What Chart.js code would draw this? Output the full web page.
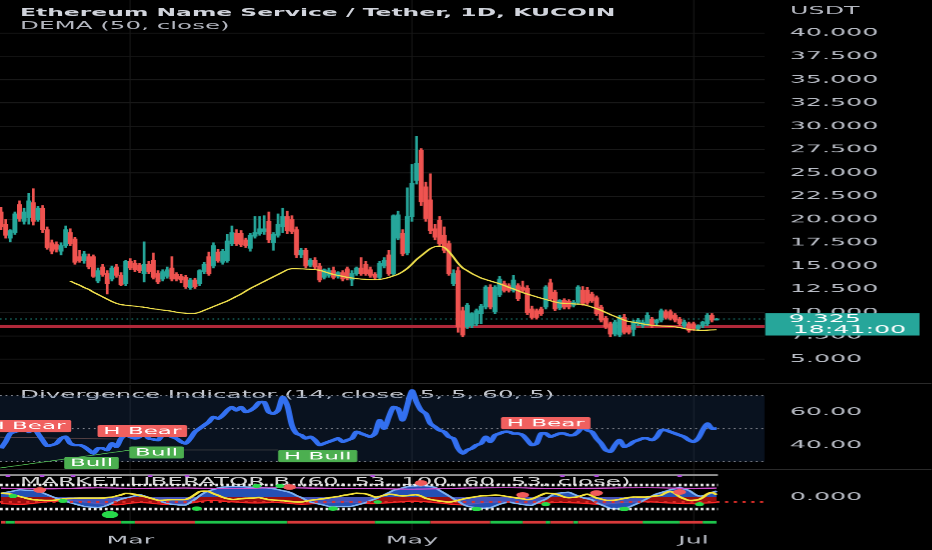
<!DOCTYPE html>
<html>
<head>
<meta charset="utf-8">
<script src="https://cdn.jsdelivr.net/npm/chart.js@4.4.1/dist/chart.umd.min.js"></script>
<style>
html, body { margin: 0; padding: 0; background: #000; overflow: hidden; width: 932px; height: 550px; }
#wrap { position: absolute; left: 0; top: 0; width: 405.2174px; height: 550px; transform: scaleX(2.3); transform-origin: 0 0; }
.pane { position: absolute; left: 0; width: 405.2174px; }
.txt { position: absolute; white-space: nowrap; font-family: 'DejaVu Sans', sans-serif; font-size: 10.7px; line-height: 12px; color: #b2b5be; }
.sep { position: absolute; left: 0; width: 405.2174px; height: 1px; background: #2a2a2a; }
</style>
</head>
<body>
<div id="wrap">
  <div class="pane" style="top:0;height:383px"><canvas id="main"></canvas></div>
  <div class="sep" style="top:383px"></div>
  <div class="txt" style="left:8.7px;top:389px;color:#c4c7ce">Divergence Indicator (14, close, 5, 5, 60, 5)</div>
  <div class="pane" style="top:385px;height:84px"><canvas id="rsi"></canvas></div>
  <div class="sep" style="top:469px"></div>
  <div class="txt" style="left:8.7px;top:476px;color:#d4d4d4">MARKET LIBERATOR B (60, 53, 100, 60, 53, close)</div>
  <div class="pane" style="top:470px;height:80px"><canvas id="osc"></canvas></div>
  <div class="txt" style="left:8.7px;top:6.8px;font-weight:bold;font-size:10.2px;color:#d1d4dc">Ethereum Name Service / Tether, 1D, KUCOIN</div>
  <div class="txt" style="left:8.7px;top:19.5px">DEMA (50, close)</div>
  <div class="txt" style="left:343.5px;top:4.5px;font-size:11px">USDT</div>
</div>
<script>
// ENS/USDT daily candles, Feb 1 .. Jul 6
const open = [
  20.8,19.5,18.0,18.6,21.6,19.8,20.2,21.8,20.0,21.2,
  18.9,17.5,17.3,16.6,17.2,18.6,17.9,16.0,15.6,16.0,
  16.0,13.4,14.9,14.2,13.6,14.9,14.0,13.1,15.5,15.3,
  15.1,14.2,15.2,15.6,14.2,13.6,13.9,14.8,14.1,13.9,
  13.8,12.7,13.5,13.1,14.4,16.0,15.0,16.5,15.4,15.6,
  17.4,18.5,18.5,17.8,16.9,18.2,18.5,18.7,19.8,17.5,
  18.3,19.2,20.3,20.0,18.9,16.2,16.7,15.1,15.6,15.0,
  13.8,14.0,14.5,13.9,14.3,14.7,13.5,14.2,14.8,15.2,
  14.6,14.1,13.8,15.0,16.2,14.2,18.0,18.5,16.4,20.3,
  24.2,27.4,23.5,22.1,19.0,19.9,18.3,17.4,13.1,14.5,
  10.2,8.5,8.6,8.8,9.9,10.6,12.7,10.1,11.9,13.1,
  12.9,12.4,12.9,12.75,12.6,10.4,10.2,10.4,10.6,13.2,
  12.2,10.5,11.3,11.2,10.8,11.1,12.4,12.4,12.0,11.6,
  10.6,9.4,8.8,7.7,7.6,9.5,8.4,8.2,8.8,8.6,
  8.8,9.3,8.9,9.2,10.1,10.1,9.7,9.3,8.6,8.8,
  8.8,8.3,8.6,8.8,9.7,9.2
];
const high = [
  21.3,20.0,18.9,20.8,22.0,21.2,22.8,23.3,21.4,21.5,
  19.2,17.8,17.6,17.5,19.3,19.0,18.1,16.7,16.6,16.3,
  16.2,14.8,15.2,14.5,15.0,15.2,14.3,15.6,15.8,15.6,
  15.3,17.6,15.5,16.4,14.5,14.6,14.9,16.0,14.3,14.1,
  14.0,13.7,13.7,14.6,15.4,16.5,17.5,16.8,16.8,18.4,
  19.3,18.9,18.8,18.0,18.5,20.3,20.3,20.4,20.8,18.6,
  20.6,21.2,20.9,20.4,19.2,16.9,16.9,15.8,15.9,15.3,
  14.7,14.8,14.9,14.4,14.5,14.9,14.5,14.9,15.9,15.5,
  14.9,14.3,15.5,15.9,16.7,20.5,20.9,18.9,23.4,25.9,
  28.9,27.6,24.0,24.9,19.5,20.3,19.2,17.7,14.6,14.9,
  10.6,11.0,10.0,10.4,10.9,12.9,13.0,12.9,13.9,13.4,
  13.1,14.0,13.1,13.4,12.9,10.7,10.4,10.6,12.9,13.6,
  12.4,11.4,11.5,11.4,11.3,12.9,12.8,12.7,12.2,11.8,
  10.8,9.6,9.0,9.2,9.7,9.8,8.6,9.2,9.4,9.2,
  10.0,9.5,9.3,10.4,10.3,10.3,9.9,9.5,9.2,9.0,
  9.0,8.7,9.1,9.9,9.9,9.4
];
const low = [
  18.9,18.0,17.6,18.4,19.8,19.5,19.5,19.4,19.8,18.6,
  16.8,16.3,16.5,16.2,17.0,17.2,15.2,15.4,15.3,14.7,
  13.8,13.2,13.9,12.0,13.4,13.8,12.9,12.9,14.6,14.4,
  14.3,13.3,14.2,13.6,13.1,13.4,13.7,13.4,13.4,13.2,
  12.6,12.5,12.6,12.9,14.2,14.0,14.8,15.4,15.2,15.4,
  17.2,17.2,17.1,17.0,16.6,18.0,18.3,18.4,17.5,16.7,
  18.1,18.6,18.5,18.5,15.9,15.9,14.8,14.9,14.7,13.3,
  13.6,13.8,13.6,13.7,13.4,13.5,12.9,14.0,14.0,14.0,
  13.8,13.6,13.6,14.8,14.0,14.0,17.8,16.1,16.2,19.8,
  23.8,21.5,19.8,18.5,17.8,17.1,16.4,14.0,12.9,7.9,
  7.4,8.3,8.4,8.6,8.8,10.4,10.4,9.9,11.7,12.2,
  12.2,12.2,11.3,12.2,9.8,9.3,9.3,9.7,10.4,11.3,
  10.2,10.3,10.4,10.4,10.6,10.9,10.8,10.9,11.1,9.7,
  9.0,8.3,7.4,7.5,7.4,7.7,7.7,7.5,8.6,8.4,
  8.6,8.4,8.7,9.0,9.3,9.2,9.0,8.6,8.4,7.9,
  8.1,8.1,8.4,8.6,9.0,9.2
];
const close = [
  19.2,18.3,18.8,20.6,20.1,20.8,22.0,19.8,21.2,18.9,
  17.0,16.6,16.8,17.2,18.9,17.4,15.4,15.6,16.3,14.9,
  13.9,14.5,14.1,13.1,14.8,14.0,13.0,15.5,14.8,14.6,
  14.5,15.2,14.4,13.8,13.3,14.4,14.6,13.6,13.6,13.5,
  12.8,13.5,12.8,14.5,15.2,14.2,17.2,15.6,16.6,17.7,
  18.6,17.4,17.3,17.2,18.3,18.6,19.0,19.0,17.8,18.4,
  19.5,20.3,18.8,18.7,16.2,16.7,15.0,15.6,14.9,13.5,
  14.6,14.5,13.8,14.3,13.6,13.7,14.2,14.8,14.2,14.2,
  14.0,13.8,15.3,15.6,14.2,20.4,20.5,16.3,20.3,23.9,
  26.0,21.9,20.1,18.8,18.1,17.4,16.7,14.2,14.2,8.5,
  7.6,10.8,9.9,10.2,10.7,12.75,10.6,12.7,13.6,12.4,
  12.4,13.5,11.5,12.4,10.0,9.5,9.5,9.9,12.75,11.5,
  10.4,11.3,10.6,10.6,11.1,12.75,11.0,11.1,11.3,9.9,
  9.2,8.5,7.7,9.0,9.5,7.9,7.9,9.0,9.2,9.0,
  9.7,8.6,9.2,10.2,9.5,9.4,9.2,8.8,9.0,8.1,
  8.3,8.6,9.0,9.7,9.2,9.325
];
const dema = [
  null,null,null,null,null,null,null,null,null,null,
  null,null,null,null,null,13.4,13.15,12.95,12.7,12.5,
  12.2,11.95,11.7,11.45,11.2,11.0,10.87,10.8,10.75,10.7,
  10.63,10.58,10.5,10.42,10.35,10.28,10.22,10.15,10.05,9.98,
  9.93,9.9,9.92,10.05,10.25,10.45,10.65,10.85,11.05,11.25,
  11.5,11.75,12.0,12.3,12.6,12.85,13.1,13.35,13.6,13.85,
  14.1,14.35,14.6,14.72,14.72,14.7,14.68,14.65,14.62,14.55,
  14.4,14.25,14.1,14.0,13.9,13.8,13.72,13.66,13.6,13.57,
  13.55,13.54,13.56,13.65,13.78,13.95,14.12,14.4,14.75,15.2,
  15.7,16.1,16.5,16.87,17.08,17.12,17.0,16.55,15.95,15.3,
  14.8,14.5,14.2,13.95,13.72,13.55,13.4,13.25,13.1,12.92,
  12.72,12.55,12.35,12.15,12.0,11.85,11.7,11.55,11.42,11.28,
  11.15,11.04,11.0,10.97,10.94,10.92,10.89,10.75,10.6,10.43,
  10.25,10.02,9.8,9.6,9.4,9.2,9.05,8.98,8.9,8.8,
  8.72,8.65,8.6,8.57,8.55,8.53,8.48,8.4,8.3,8.2,
  8.15,8.12,8.1,8.12,8.15,8.17
];
const priceTicks = [5, 7.5, 10, 12.5, 15, 17.5, 20, 22.5, 25, 27.5, 30, 32.5, 35, 37.5, 40];
const supportLevel = 8.53;
const monthLabels = ['Mar', 'May', 'Jul'];
const monthIdx = [28, 89, 150];

// Divergence indicator (RSI 14)
const rsi = [
  38,42,47,48,49,52,48,51,47,43,
  39.5,40,41,44,45,41,40,40,39,37,
  35,38,38,37,41,39,44,46,45,44,
  45,47,44,43.5,43,46,46,45,44,42,
  41,44,48,50,52,54,57,56,58,61,
  63,61,63,60,61,63,66,66,60,59,
  61,69,64,52,47,46,44,45,43,40,
  41,42,43,44,42,43,44,48,47,46,
  45,47,55,50,57,63,62,55,64,73,
  66,61,59,53,51,49,48,45,44,38,
  35,37,38,40,41,45,42,46,47,48,
  48,47,47,46,43,40,41,47,47,45,
  46,47,47,46,46,48,51,49,48,44,
  41,37,36,40,43,39,40,42,43,44,
  44,43,45,49,49,48,47,46,45,43,
  42,44,49,53,50,50
];
const rsiTicks = [40, 60];
const rsiLevels = [70, 50, 30];
const divText = ['H Bear', 'H Bear', 'H Bear', 'Bull', 'Bull', 'H Bull'];
const divIdx = [5.5, 30.6, 118, 19.6, 33.7, 68.6];
const divVal = [51.5, 48.5, 53.3, 29.1, 35.5, 33.3];
const divBull = [false, false, false, true, true, true];

// Market Liberator B
const yellow = [
  33,29,25,15,5,-5,-15,-22,-25,-27,
  -29,-29,-24,-19,-14,-12,-11,-10,-10,-10,
  -10,-10,-8,-5,-1,8,18,30,28,22,
  12,4,-6,-16,-27,-27,-24,-22,-22,-22,
  -20,-5,20,45,49,45,28,14,-2,-13,
  -20,-19,-14,-11,-9,-7,-5,-14,-22,-25,
  -28,-30,-34,-38,-42,-42,-35,-28,-23,-18,
  -13,-7,-1,4,12,18,25,32,29,26,
  14,0,5,14,22,20,13,8,12,16,
  19,7,-10,-20,-27,-33,-38,-43,-36,-27,
  -18,-9,-3,3,9,11,13,15,14,8,
  2,-4,-9,-15,-21,-16,0,17,31,29,
  26,15,0,-6,-3,3,14,24,10,-8,
  -17,-27,-28,-26,-19,-12,-5,0,0,0,
  1,5,9,15,35,46,30,2,-15,-28,
  -27,-23,-5,25,38,19
];
const blue = [
  30,38,45,53,60,58,55,53,51,35,
  20,4,-10,-22,-36,-47,-58,-68,-78,-83,
  -86,-89,-82,-69,-52,-34,-18,-8,0,10,
  20,9,-4,-16,-28,-42,-52,-61,-64,-67,
  -66,-45,-20,10,35,51,63,75,82,85,
  88,89,87,84,82,80,79,77,75,69,
  62,53,45,32,12,-4,-24,-42,-50,-60,
  -68,-78,-80,-80,-80,-80,-77,-67,-58,-47,
  -30,-17,0,18,36,56,64,76,86,91,
  93,95,94,88,80,55,33,10,-15,-35,
  -60,-76,-84,-92,-95,-93,-90,-75,-60,-50,
  -42,-50,-56,-63,-67,-69,-50,-35,-18,8,
  28,33,37,39,24,8,-6,-14,-24,-48,
  -64,-80,-95,-97,-100,-93,-84,-68,-52,-32,
  -12,8,26,37,48,62,70,80,67,55,
  30,10,9,21,36,50
];
const redIdx = [0,5,10,15,20,25,30,35,40,45,50,55,60,65,70,75,80,85,90,95,100,105,110,115,120,125,130,135,140,145,150,155];
const redVal = [-55,-60,-40,-30,-50,-65,-45,-60,-55,-30,-40,-50,-45,-60,-50,-40,-55,-45,-35,-50,-65,-45,-40,-55,-45,-50,-60,-45,-40,-50,-55,-45];
const magIdx = [0,10,20,30,40,50,60,70,80,90,100,110,120,130,140,150,155];
const magVal = [74,68,76,72,75,70,77,73,71,66,74,77,71,74,77,72,75];
const greenDotIdx = [2.6, 13.4, 23.6, 42.4, 55.4, 60.4, 71.9, 81.6, 103, 118, 135, 151.3];
const greenDotVal = [8, -33, -147, -97, 92, 92, -97, -42, -100, -60, -100, -60];
const greenDotSize = [2, 2, 3.6, 2.2, 2, 2, 2.2, 1.8, 2.2, 2, 2.2, 2];
const purpleDotIdx = [1.5, 8.9, 15.6, 32.3, 40.3, 80.5, 121.6, 129, 147];
const purpleDotVal = [175, 175, 175, 175, 175, 175, 175, 175, 175];
const redDotIdx = [8.4, 62.5, 91, 113, 129, 147];
const redDotVal = [58, 83, 117, 17, 33, 42];
const trendLen = [2,2,23,3,13,20,19,12,13,7,5,1,5,1,14,8,5,3];
const trendDir = [-1,1,-1,1,-1,1,-1,1,-1,1,-1,1,-1,1,-1,1,-1,1];
const oscTicks = [0];

// layout (page is drawn narrow and stretched by scaleX)
const S = 2.3;
const W = 932 / S;
const PLOT_W = 765 / S;
const AXIS_W = W - PLOT_W;
const X_MIN = -0.22, X_MAX = 165.4;
const GRID = '#181818';
const UP = '#26a69a', DOWN = '#ef5350';

Chart.defaults.font.family = 'DejaVu Sans';
Chart.defaults.font.size = 11;
Chart.defaults.color = '#b8bcc5';
Chart.defaults.animation = false;

const idx = close.map((_, i) => i);
const candleColor = idx.map(i => close[i] >= open[i] ? UP : DOWN);
const lastClose = close[close.length - 1];
const trend = [];
trendLen.forEach((n, k) => { for (let j = 0; j < n; j++) trend.push(trendDir[k]); });

function xAxis(withLabels) {
  return {
    type: 'linear', min: X_MIN, max: X_MAX, offset: false,
    grid: { color: GRID, lineWidth: 0.5, drawTicks: false, offset: false },
    border: { display: false },
    ticks: { display: withLabels, padding: 4, maxRotation: 0, autoSkip: false,
             callback: (v, i) => monthLabels[i] },
    afterBuildTicks: a => { a.ticks = monthIdx.map(v => ({ value: v })); },
    afterFit: a => { a.height = withLabels ? 20 : 0; a.paddingLeft = 0; a.paddingRight = 0; }
  };
}
function yAxis(min, max, ticks, digits, showGrid) {
  return {
    position: 'right', min: min, max: max,
    grid: { display: showGrid, color: GRID, lineWidth: 1, drawTicks: false },
    border: { display: false },
    ticks: { padding: 11, callback: v => Number(v).toFixed(digits) },
    afterBuildTicks: a => { a.ticks = ticks.map(v => ({ value: v })); },
    afterFit: a => { a.width = AXIS_W; a.paddingTop = 0; a.paddingBottom = 0; }
  };
}
function hline(y, x0, x1, color, width, dash, order) {
  return { type: 'line', data: [{ x: x0, y: y }, { x: x1, y: y }], borderColor: color,
           borderWidth: width, borderDash: dash || [], pointRadius: 0, order: order || 0 };
}
function baseOptions(scales) {
  return {
    responsive: true, maintainAspectRatio: false, devicePixelRatio: S,
    layout: { padding: 0, autoPadding: false }, events: [],
    plugins: { legend: { display: false }, tooltip: { enabled: false } },
    scales: scales
  };
}

// price pane
const priceTag = {
  id: 'priceTag',
  afterDraw(chart) {
    const ctx = chart.ctx, y = chart.scales.y.getPixelForValue(lastClose);
    const left = chart.chartArea.right + 0.3;
    ctx.save();
    ctx.fillStyle = UP;
    ctx.fillRect(left, y - 5.8, 920 / S - left, 22.3);
    ctx.fillStyle = '#ffffff';
    ctx.font = '11px DejaVu Sans';
    ctx.textBaseline = 'middle';
    ctx.fillText(lastClose.toFixed(3), 789 / S, y + 0.3);
    ctx.fillText('18:41:00', 793 / S, y + 11);
    ctx.restore();
  }
};

new Chart(document.getElementById('main'), {
  type: 'bar',
  data: {
    datasets: [
      { type: 'line', data: idx.map(i => ({ x: i, y: dema[i] })), borderColor: '#f0e04c',
        borderWidth: 1.1, pointRadius: 0, tension: 0.3, order: 0 },
      { data: idx.map(i => ({ x: i, y: [open[i], close[i]] })), backgroundColor: candleColor,
        barThickness: 1.5, grouped: false, minBarLength: 0.8, order: 1 },
      { data: idx.map(i => ({ x: i, y: [low[i], high[i]] })), backgroundColor: candleColor,
        barThickness: 0.5, grouped: false, order: 2 },
      hline(lastClose, X_MIN, X_MAX, UP, 1, [0.7, 1.5], 3),
      hline(supportLevel, X_MIN, X_MAX, '#b0283a', 3, [], 4)
    ]
  },
  options: baseOptions({ x: xAxis(false), y: yAxis(2.41, 43.545, priceTicks, 3, true) }),
  plugins: [priceTag]
});

// RSI pane
const rsiBand = {
  id: 'rsiBand',
  beforeDatasetsDraw(chart) {
    const { ctx, chartArea } = chart, y = chart.scales.y;
    const top = y.getPixelForValue(70), bottom = y.getPixelForValue(30);
    ctx.save();
    ctx.fillStyle = 'rgba(40, 80, 140, 0.22)';
    ctx.fillRect(chartArea.left, top, chartArea.right - chartArea.left, bottom - top);
    ctx.restore();
  }
};
const divLabels = {
  id: 'divLabels',
  afterDatasetsDraw(chart) {
    const ctx = chart.ctx, xs = chart.scales.x, ys = chart.scales.y;
    ctx.save();
    ctx.font = '10px DejaVu Sans';
    ctx.textBaseline = 'middle';
    ctx.textAlign = 'center';
    divText.forEach((t, k) => {
      const cx = xs.getPixelForValue(divIdx[k]), cy = ys.getPixelForValue(divVal[k]);
      const w = ctx.measureText(t).width + 5;
      ctx.fillStyle = divBull[k] ? '#4caf50' : '#f0605f';
      ctx.beginPath();
      ctx.roundRect(cx - w / 2, cy - 6, w, 12, 1.2);
      ctx.fill();
      ctx.fillStyle = '#ffffff';
      ctx.fillText(t, cx, cy + 0.5);
    });
    ctx.restore();
  }
};

new Chart(document.getElementById('rsi'), {
  type: 'line',
  data: {
    datasets: [
      { data: idx.map(i => ({ x: i, y: rsi[i] })), borderColor: '#3370f0', borderWidth: 2.6,
        pointRadius: 0, tension: 0.25, order: 0 },
      { data: [{ x: -0.2, y: 26.1 }, { x: 28, y: 37 }], borderColor: '#4caf50', borderWidth: 0.8, pointRadius: 0, order: 1 },
      { data: [{ x: -0.2, y: 44.8 }, { x: 26.5, y: 43.6 }], borderColor: '#5a4446', borderWidth: 0.8, pointRadius: 0, order: 1 },
      { data: [{ x: 39.5, y: 37 }, { x: 60, y: 37 }], borderColor: '#4a4a4a', borderWidth: 0.8, pointRadius: 0, order: 1 },
      ...rsiLevels.map(v => hline(v, X_MIN, X_MAX, '#80838c', 1, [0.8, 1.6], 2))
    ]
  },
  options: baseOptions({ x: xAxis(false), y: yAxis(25.45, 76.36, rsiTicks, 2, false) }),
  plugins: [rsiBand, divLabels]
});

// Market Liberator pane
new Chart(document.getElementById('osc'), {
  type: 'line',
  data: {
    datasets: [
      { type: 'scatter', data: greenDotIdx.map((x, k) => ({ x: x, y: greenDotVal[k] })),
        pointRadius: greenDotSize, pointBackgroundColor: '#27d84a', pointBorderWidth: 0, order: 0 },
      { type: 'scatter', data: redDotIdx.map((x, k) => ({ x: x, y: redDotVal[k] })),
        pointRadius: 2.8, pointBackgroundColor: '#f05a5a', pointBorderWidth: 0, order: 0 },
      { type: 'scatter', data: purpleDotIdx.map((x, k) => ({ x: x, y: purpleDotVal[k] })),
        pointRadius: 1.1, pointBackgroundColor: '#b44fe0', pointBorderWidth: 0, order: 0 },
      { data: idx.map(i => ({ x: i, y: -210 })), borderWidth: 2.8, pointRadius: 0, order: 1,
        segment: { borderColor: c => trend[c.p1DataIndex] > 0 ? '#1fc44c' : '#d83a3a' } },
      { data: idx.map(i => ({ x: i, y: yellow[i] })), borderColor: '#f5e23a', borderWidth: 1.6,
        pointRadius: 0, tension: 0.3, order: 2 },
      hline(100, X_MIN, 155.3, '#eeeeee', 2.6, [1.2, 1.2], 3),
      hline(-100, X_MIN, 155.3, '#eeeeee', 2.6, [1.2, 1.2], 3),
      hline(-42, X_MIN, X_MAX, '#e3302b', 1.6, [1.4, 2.4], 3),
      { data: magIdx.map((x, k) => ({ x: x, y: magVal[k] })), borderColor: '#d24fd0', borderWidth: 1.1,
        pointRadius: 0, tension: 0.4, order: 4 },
      hline(183, X_MIN, 155.3, '#9c9c9c', 1.6, [], 4),
      { data: idx.map(i => ({ x: i, y: blue[i] })), borderColor: '#7db1f2', borderWidth: 1.4,
        backgroundColor: 'rgba(45, 100, 225, 0.8)', fill: 'origin', pointRadius: 0, tension: 0.3, order: 5 },
      { data: redIdx.map((x, k) => ({ x: x, y: redVal[k] })), borderColor: '#ff2424', borderWidth: 1.2,
        backgroundColor: 'rgba(170, 16, 16, 0.9)', fill: 'origin', pointRadius: 0, tension: 0.4, order: 6 }
    ]
  },
  options: baseOptions({ x: xAxis(true), y: yAxis(-275, 225, oscTicks, 3, false) })
});
</script>
</body>
</html>
